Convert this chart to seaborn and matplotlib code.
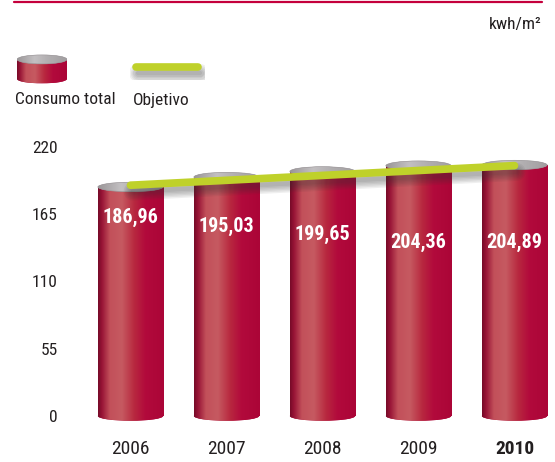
import numpy as np
import matplotlib
matplotlib.use("Agg")
import matplotlib.pyplot as plt
import matplotlib.patheffects as pe
import seaborn as sns
from matplotlib.patches import Ellipse, Rectangle
from matplotlib.colors import LinearSegmentedColormap
from matplotlib.lines import Line2D
from matplotlib import font_manager as fm

# ---- data -------------------------------------------------------------
years = ["2006", "2007", "2008", "2009", "2010"]
consumo_total = [186.96, 195.03, 199.65, 204.36, 204.89]
objetivo = [188.4, 192.4, 196.4, 200.4, 204.4]
y_ticks = [0, 55, 110, 165, 220]
unit_label = "kwh/m²"
legend_labels = ["Consumo total", "Objetivo"]

# ---- layout / style -----------------------------------------------------
value_label_y = [162, 155, 148, 141.5, 141.5]   # heights of the value labels
TEXT = "#231f20"
CRIMSON = "#b00a3c"
GREEN = "#bfd12a"
RULE = "#c4003c"

sns.set_theme(style="white")
installed = {f.name for f in fm.fontManager.ttflist}
narrow = [f for f in ["Liberation Sans Narrow", "DejaVu Sans Condensed",
                      "Roboto Condensed", "Open Sans Condensed"] if f in installed]
plt.rcParams["font.family"] = narrow + ["Liberation Sans", "DejaVu Sans"]

body_cmap = LinearSegmentedColormap.from_list("body", [
    (0.00, "#760a28"), (0.06, "#981436"), (0.18, "#c2505a"),
    (0.36, "#c65a61"), (0.55, "#b8283f"), (0.72, "#b20a3c"),
    (1.00, "#ab0537")])
top_cmap = LinearSegmentedColormap.from_list("top", [
    (0.0, "#9a9698"), (0.35, "#c3c0c2"), (0.6, "#b3b0b2"), (1.0, "#a19ea0")])
grad = np.linspace(0, 1, 256).reshape(1, -1)

# soft, blurred drop shadow built from stacked translucent strokes
soft_shadow = [pe.SimpleLineShadow(offset=(1.5, -4.5), shadow_color="#353535",
                                   alpha=0.075, linewidth=lw)
               for lw in (3, 5, 7, 9, 11, 13)] + [pe.Normal()]


def gradient_fill(ax, patch, extent, cmap, zorder):
    im = ax.imshow(grad, cmap=cmap, extent=extent, aspect="auto",
                   interpolation="bilinear", zorder=zorder)
    im.set_clip_path(patch)
    return im


def cylinder(ax, x0, w, y0, y1, eh, body_patch=None, z=2):
    """Shaded cylinder: gradient body, rounded bottom, grey lid."""
    xc = x0 + w / 2
    if body_patch is None:
        body_patch = Rectangle((x0, y0), w, y1 - y0, facecolor=CRIMSON,
                               edgecolor="none", zorder=z)
        ax.add_patch(body_patch)
    gradient_fill(ax, body_patch, [x0, x0 + w, y0, y1], body_cmap, z + 0.1)
    bottom = Ellipse((xc, y0), w, eh, facecolor=CRIMSON, edgecolor="none",
                     zorder=z)
    ax.add_patch(bottom)
    gradient_fill(ax, bottom, [x0, x0 + w, y0 - eh / 2, y0 + eh / 2],
                  body_cmap, z + 0.1)
    lid = Ellipse((xc, y1), w, eh, facecolor="#b0adaf", edgecolor="none",
                  zorder=z + 0.2)
    ax.add_patch(lid)
    gradient_fill(ax, lid, [x0, x0 + w, y1 - eh / 2, y1 + eh / 2],
                  top_cmap, z + 0.3)
    ax.add_patch(Ellipse((xc, y1), w, eh, facecolor="none",
                         edgecolor="#9a9598", lw=0.4, zorder=z + 0.4))


# ---- figure -------------------------------------------------------------
W, H = 555, 462
fig = plt.figure(figsize=(W / 100, H / 100), dpi=100)
fig.patch.set_facecolor("white")

px = 1.225                        # pixels per kwh/m2
zero_px, top_px, bot_px = 416, 140, 430
left_px, step_px = 82.5, 96
ax = fig.add_axes([left_px / W, (H - bot_px) / H,
                   step_px * 4.9 / W, (bot_px - top_px) / H])

sns.barplot(x=years, y=consumo_total, color=CRIMSON, saturation=1,
            width=0.68, ax=ax, zorder=2)

ylim = (-(bot_px - zero_px) / px, (zero_px - top_px) / px)
eh = 9.5 / px
for p in list(ax.patches):
    p.set_edgecolor("none")
    cylinder(ax, p.get_x(), p.get_width(), 0, p.get_height(), eh,
             body_patch=p, z=2)

# target line
ax.plot(range(len(objetivo)), objetivo, color=GREEN, lw=5.5,
        solid_capstyle="round", zorder=8, path_effects=soft_shadow)

for i, v in enumerate(consumo_total):
    ax.text(i, value_label_y[i], f"{v:.2f}".replace(".", ","),
            ha="center", va="center", color="white", fontsize=14.5,
            fontweight="bold", zorder=9)

ax.set_xlim(-0.5, 4.4)
ax.set_ylim(*ylim)
ax.set_yticks(y_ticks)
ax.set_yticklabels([str(t) for t in y_ticks], fontsize=12.5, color=TEXT)
ax.set_xlabel("")
ax.set_ylabel("")
ax.tick_params(axis="both", length=0)
ax.tick_params(axis="y", pad=18)
ax.tick_params(axis="x", pad=7, labelsize=14, labelcolor=TEXT)
ax.get_xticklabels()[-1].set_fontweight("bold")
sns.despine(ax=ax, left=True, bottom=True)
ax.grid(False)
ax.set_facecolor("none")

# ---- header: rule, unit, legend -----------------------------------------
fig.add_artist(Line2D([14 / W, 542 / W], [1 - 1.5 / H] * 2, color=RULE,
                      lw=1.6, transform=fig.transFigure))
fig.text(542 / W, 1 - 25 / H, unit_label, ha="right", va="center",
         fontsize=12.5, color=TEXT)

lax = fig.add_axes([17 / W, 1 - 84 / H, 50 / W, 30 / H])
lax.set_xlim(0, 1)
lax.set_ylim(0, 1)
lax.axis("off")
cylinder(lax, 0, 1, 0.17, 0.82, 0.3, z=2)

gax = fig.add_axes([130 / W, 1 - 80 / H, 75 / W, 26 / H])
gax.set_xlim(0, 1)
gax.set_ylim(0, 1)
gax.axis("off")
gax.plot([0.08, 0.9], [0.5, 0.5], color=GREEN, lw=5.5,
         solid_capstyle="round", path_effects=soft_shadow)

fig.text(15 / W, 1 - 100 / H, legend_labels[0], ha="left", va="center",
         fontsize=12.5, color=TEXT)
fig.text(133 / W, 1 - 100 / H, legend_labels[1], ha="left", va="center",
         fontsize=12.5, color=TEXT)

fig.savefig("out.png", dpi=100, facecolor="white")
